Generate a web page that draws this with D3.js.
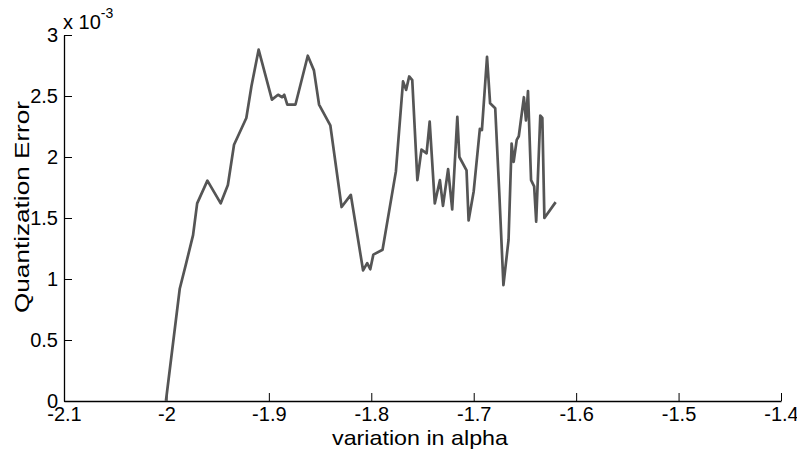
<!DOCTYPE html>
<html>
<head>
<meta charset="utf-8">
<script src="https://cdn.jsdelivr.net/npm/d3@7"></script>
<style>
body { margin: 0; background: #fff; }
svg text { font-family: "Liberation Sans", Arial, sans-serif; fill: #000; }
</style>
</head>
<body>
<div id="chart"></div>
<script>
// alpha values and quantization error (x 1e-3)
let alpha = [-2.0005, -1.987, -1.981, -1.974, -1.970, -1.960, -1.947, -1.940, -1.934, -1.922,
    -1.917, -1.910, -1.897, -1.891, -1.887, -1.885, -1.882, -1.874, -1.862, -1.856,
    -1.851, -1.840, -1.829, -1.820, -1.808, -1.804, -1.801, -1.798, -1.789, -1.776,
    -1.769, -1.766, -1.763, -1.760, -1.755, -1.751, -1.746, -1.743, -1.738, -1.733,
    -1.730, -1.725, -1.721, -1.716, -1.714, -1.707, -1.705, -1.700, -1.694, -1.692,
    -1.687, -1.684, -1.679, -1.675, -1.671, -1.666, -1.663, -1.661, -1.658, -1.656,
    -1.651, -1.649, -1.647, -1.644, -1.641, -1.639, -1.635, -1.633, -1.631, -1.620];
let qerr = [0, 0.92, 1.12, 1.36, 1.62, 1.806, 1.62, 1.77, 2.10, 2.32,
    2.58, 2.88, 2.47, 2.51, 2.49, 2.51, 2.43, 2.43, 2.83, 2.71,
    2.43, 2.26, 1.59, 1.69, 1.07, 1.13, 1.08, 1.20, 1.24, 1.88,
    2.62, 2.55, 2.66, 2.63, 1.81, 2.06, 2.03, 2.29, 1.62, 1.81,
    1.60, 1.90, 1.57, 2.33, 2.00, 1.89, 1.48, 1.72, 2.23, 2.22,
    2.82, 2.44, 2.40, 1.70, 0.95, 1.32, 2.11, 1.96, 2.14, 2.17,
    2.49, 2.30, 2.54, 1.81, 1.76, 1.47, 2.34, 2.32, 1.50, 1.63];

let xTicks = [-2.1, -2, -1.9, -1.8, -1.7, -1.6, -1.5, -1.4];
let yTicks = [0, 0.5, 1, 1.5, 2, 2.5, 3];

let width = 797, height = 454;
let margin = {left: 64, right: 16, top: 35, bottom: 53};

let svg = d3.select("#chart").append("svg")
    .attr("width", width)
    .attr("height", height);

let x = d3.scaleLinear([-2.1, -1.4], [margin.left, width - margin.right]);
let y = d3.scaleLinear([0, 3], [height - margin.bottom, margin.top]);

// plain hyphen for minus, like the original
let fmt = (d) => String(d);

// axes, ticks pointing inward
let xAxis = svg.append("g")
    .attr("transform", "translate(0," + y(0) + ")")
    .call(d3.axisBottom(x).tickValues(xTicks).tickSizeInner(-8).tickSizeOuter(0)
        .tickPadding(6).tickFormat(fmt));

let yAxis = svg.append("g")
    .attr("transform", "translate(" + x(-2.1) + ",0)")
    .call(d3.axisLeft(y).tickValues(yTicks).tickSizeInner(-8).tickSizeOuter(0)
        .tickPadding(6).tickFormat(fmt));

svg.selectAll(".domain").attr("stroke", "#000").attr("stroke-width", 1.3);
svg.selectAll(".tick line").attr("stroke", "#000");
svg.selectAll(".tick text").style("font-size", "20px").attr("fill", "#000");
xAxis.selectAll(".tick text").attr("dy", "0.71em");

// the line
let line = d3.line()
    .x((d, i) => x(alpha[i]))
    .y((d) => y(d));

svg.append("path")
    .datum(qerr)
    .attr("d", line)
    .attr("fill", "none")
    .attr("stroke", "#555")
    .attr("stroke-width", 2.7)
    .attr("stroke-linejoin", "round");

// labels
svg.append("text")
    .attr("x", 420)
    .attr("y", 445)
    .attr("text-anchor", "middle")
    .attr("textLength", 176)
    .attr("lengthAdjust", "spacingAndGlyphs")
    .style("font-size", "21px")
    .text("variation in alpha");

svg.append("text")
    .attr("transform", "translate(29,207) rotate(-90)")
    .attr("text-anchor", "middle")
    .attr("textLength", 212)
    .attr("lengthAdjust", "spacingAndGlyphs")
    .style("font-size", "21px")
    .text("Quantization Error");

let expo = svg.append("text")
    .attr("x", 63)
    .attr("y", 29)
    .style("font-size", "20px")
    .text("x 10");
expo.append("tspan")
    .attr("dy", -11)
    .style("font-size", "14px")
    .text("-3");
</script>
</body>
</html>
